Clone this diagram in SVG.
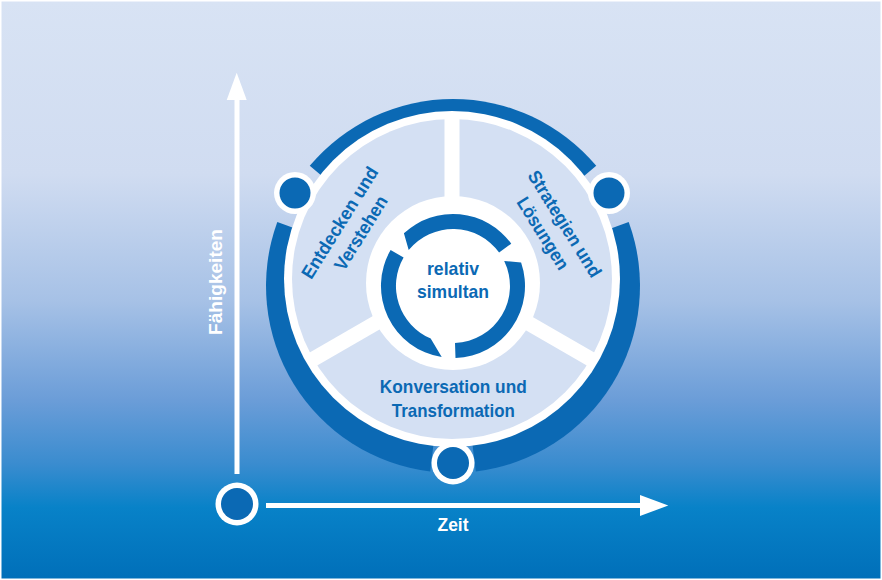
<svg xmlns="http://www.w3.org/2000/svg" width="882" height="580" viewBox="0 0 882 580">
  <defs>
    <linearGradient id="bg" x1="0" y1="0" x2="0" y2="580" gradientUnits="userSpaceOnUse">
      <stop offset="0" stop-color="#d8e3f4"/>
      <stop offset="0.3" stop-color="#d0dcf1"/>
      <stop offset="0.52" stop-color="#a6c1e6"/>
      <stop offset="0.69" stop-color="#6b9dd8"/>
      <stop offset="0.8" stop-color="#3a8ccf"/>
      <stop offset="0.875" stop-color="#0882c8"/>
      <stop offset="1" stop-color="#006fb9"/>
    </linearGradient>
    <style>
      .blue { fill: #0b69b4; }
      .white { fill: #ffffff; }
      .lav { fill: #d4e0f3; }
      .spoke { stroke: #ffffff; stroke-width: 15; fill: none; }
      .lbl { font-family: "Liberation Sans", Arial, sans-serif; font-weight: bold; font-size: 18.5px; fill: #0b69b4; }
      .axl { font-family: "Liberation Sans", Arial, sans-serif; font-weight: bold; font-size: 18.5px; fill: #ffffff; }
      .axis { stroke: #ffffff; stroke-width: 5; fill: none; }
    </style>
  </defs>

  <rect x="0" y="0" width="882" height="580" fill="url(#bg)"/>
  <rect x="0.75" y="0.75" width="880.5" height="578.5" fill="none" stroke="#ffffff" stroke-width="1.5"/>

  <g id="outer-ring">
    <path class="blue" d="M453 286 L309.75 165.8 A187 187 0 0 1 596.25 165.8 Z"/>
    <path class="blue" d="M453 286 L628.7 222 A187 187 0 0 1 475.8 471.6 Z"/>
    <path class="blue" d="M453 286 L430.2 471.6 A187 187 0 0 1 277.3 222 Z"/>
  </g>

  <g id="cycle-disc">
    <circle class="white" cx="452" cy="279" r="168"/>
    <circle class="lav" cx="452" cy="279" r="160"/>
  </g>

  <g id="connectors">
    <line class="spoke" x1="452" y1="279" x2="452" y2="115"/>
    <line class="spoke" x1="452" y1="279" x2="311.7" y2="360"/>
    <line class="spoke" x1="452" y1="279" x2="592.3" y2="360"/>
    <line class="axis" x1="237" y1="474" x2="237" y2="98"/>
    <polygon class="white" points="226.7,100 246.7,100 236.7,72.7"/>
    <line class="axis" x1="266" y1="505.5" x2="642" y2="505.5"/>
    <polygon class="white" points="640,495 640,516 668.3,505.5"/>
  </g>

  <g id="center">
    <circle class="white" cx="453" cy="283" r="87"/>
    <path class="blue" d="M403.9 233.3 A72 72 0 0 1 511.25 243.68 L499.11 252.5 A57 57 0 0 0 408.7 250.1 Z"/>
    <path class="blue" d="M521.1 262.6 A72 72 0 0 1 455.5 357.96 L455 342.97 A57 57 0 0 0 504.2 261 Z"/>
    <path class="blue" d="M441.7 357.1 A72 72 0 0 1 390.6 250 L403.6 257.5 A57 57 0 0 0 430.7 338.5 Z"/>
    <text class="lbl" x="453" y="275" text-anchor="middle" textLength="52" lengthAdjust="spacingAndGlyphs">relativ</text>
    <text class="lbl" x="453" y="298.3" text-anchor="middle" textLength="72" lengthAdjust="spacingAndGlyphs">simultan</text>
  </g>

  <g id="entdecken">
    <g transform="translate(350,228) rotate(-58)">
      <text class="lbl" x="-1" y="-5.2" text-anchor="middle" textLength="128" lengthAdjust="spacingAndGlyphs">Entdecken und</text>
      <text class="lbl" x="1.5" y="18.2" text-anchor="middle" textLength="84" lengthAdjust="spacingAndGlyphs">Verstehen</text>
    </g>
  </g>

  <g id="strategien">
    <g transform="translate(554,228.5) rotate(58)">
      <text class="lbl" x="1.7" y="-5.2" text-anchor="middle" textLength="122" lengthAdjust="spacingAndGlyphs">Strategien und</text>
      <text class="lbl" x="-1.7" y="18.2" text-anchor="middle" textLength="82" lengthAdjust="spacingAndGlyphs">Lösungen</text>
    </g>
  </g>

  <g id="konversation">
    <text class="lbl" x="453.3" y="393.3" text-anchor="middle" textLength="147" lengthAdjust="spacingAndGlyphs">Konversation und</text>
    <text class="lbl" x="453.3" y="416.7" text-anchor="middle" textLength="123" lengthAdjust="spacingAndGlyphs">Transformation</text>
  </g>

  <g id="marker-tl">
    <circle class="white" cx="295" cy="193" r="21"/>
    <circle class="blue" cx="295" cy="193" r="15.5"/>
  </g>
  <g id="marker-tr">
    <circle class="white" cx="609" cy="193" r="21"/>
    <circle class="blue" cx="609" cy="193" r="15.5"/>
  </g>
  <g id="marker-b">
    <circle class="white" cx="453" cy="463" r="21.5"/>
    <circle class="blue" cx="453" cy="463" r="16"/>
  </g>
  <g id="origin">
    <circle class="white" cx="237" cy="504" r="21.5"/>
    <circle class="blue" cx="237" cy="504" r="16"/>
  </g>

  <g id="axis-labels">
    <text class="axl" x="453" y="531" text-anchor="middle" textLength="31" lengthAdjust="spacingAndGlyphs">Zeit</text>
    <g transform="translate(222,282) rotate(-90)">
      <text class="axl" x="0" y="0" text-anchor="middle" textLength="106" lengthAdjust="spacingAndGlyphs">Fähigkeiten</text>
    </g>
  </g>
</svg>
